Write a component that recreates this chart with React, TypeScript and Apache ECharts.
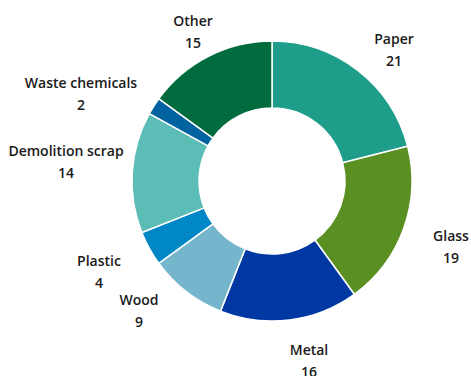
import React, { useEffect, useRef } from "react";
import * as echarts from "echarts";

const categories = ["Paper", "Glass", "Metal", "Wood", "Plastic", "Demolition scrap", "Waste chemicals", "Other"];
const values = [21, 19, 16, 9, 4, 14, 2, 15];
const colors = ["#1e9e8a", "#5a8f22", "#0038a3", "#76b6cc", "#0088c6", "#5bbdb5", "#00629e", "#006b3c"];
// label centre positions (layout only)
const labelPos: [number, number][] = [
  [394, 49], [451, 246], [309, 360], [139, 310], [99, 271], [66, 161], [81, 93], [193, 31],
];

export default function App() {
  const ref = useRef<HTMLDivElement>(null);
  useEffect(() => {
    if (!ref.current) return;
    const chart = echarts.init(ref.current, null, { renderer: "svg" });
    chart.setOption({
      animation: false,
      backgroundColor: "#ffffff",
      series: [
        {
          type: "pie",
          center: [272, 181],
          radius: [73, 140],
          startAngle: 90,
          clockwise: true,
          avoidLabelOverlap: false,
          itemStyle: { borderColor: "#ffffff", borderWidth: 1.5 },
          label: {
            show: true,
            position: "outside",
            formatter: "{b}\n{c}",
            fontFamily: "Open Sans",
            fontWeight: 600,
            fontSize: 14,
            lineHeight: 22,
            color: "#1a1a1a",
            align: "center",
          },
          labelLine: { show: false },
          labelLayout: (p: any) => ({
            x: labelPos[p.dataIndex][0],
            y: labelPos[p.dataIndex][1],
            align: "center",
            verticalAlign: "middle",
          }),
          emphasis: { disabled: true },
          data: categories.map((c, i) => ({ name: c, value: values[i], itemStyle: { color: colors[i] } })),
        },
      ],
    });
    return () => chart.dispose();
  }, []);
  return <div ref={ref} style={{ position: "absolute", left: 0, top: 0, width: 471, height: 376 }} />;
}
